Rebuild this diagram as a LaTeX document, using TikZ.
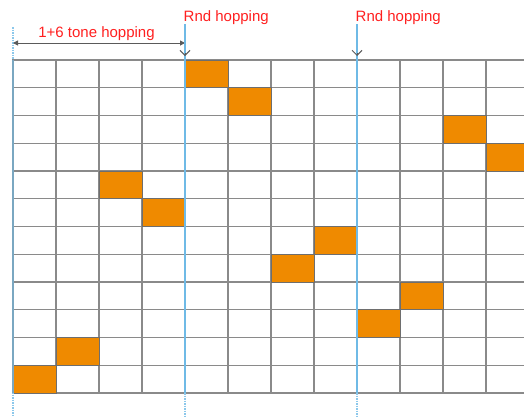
\documentclass[tikz,border=0pt]{standalone}
\usepackage{fontspec}
\setmainfont{Liberation Sans}
\usetikzlibrary{arrows.meta}
\definecolor{cellorange}{HTML}{EF8A00}
\definecolor{markblue}{HTML}{6FBAE6}
\definecolor{gridgray}{HTML}{8A8A8A}
\definecolor{arrowgray}{HTML}{5A5A5A}
\definecolor{labelred}{HTML}{FF2020}
\tikzset{
  gridline/.style={draw=gridgray, line width=1.1pt},
  hopcell/.style={fill=cellorange, draw=gridgray!80!black, line width=0.8pt},
  markline/.style={draw=markblue, line width=1.1pt},
  leftmark/.style={draw=markblue!60!gridgray, line width=1.1pt},
  tailline/.style={draw=markblue!80, line width=1.1pt, dash pattern=on 1.5pt off 1pt},
  spanarrow/.style={draw=arrowgray, line width=1pt, {Triangle[length=5pt,width=5pt]}-{Triangle[length=5pt,width=5pt]}},
  downtip/.style={draw=arrowgray, line width=1pt, -{Straight Barb[length=5pt,width=10pt]}},
  hoplabel/.style={text=labelred, font=\fontsize{15}{17}\selectfont, inner sep=0pt}
}
\begin{document}
\begin{tikzpicture}[x=1pt,y=-1pt]
\useasboundingbox (0,0) rectangle (524,416);
\clip (0,0) rectangle (524,416);
\fill[white] (0,0) rectangle (524,416);
% grid
\foreach \i in {0,...,12}
  \draw[gridline] (12,{60+\i*27.75}) -- (524,{60+\i*27.75});
\foreach \j in {1,2,3,5,6,7,9,10,11}
  \draw[gridline] ({13+\j*43},60) -- ({13+\j*43},393);
% hopping cells
\foreach \r/\c in {0/4,1/5,2/10,3/11,4/2,5/3,6/7,7/6,8/9,9/8,10/1,11/0}
  \draw[hopcell] ({13+\c*43},{60+\r*27.75}) rectangle ++(43,27.75);
% marker lines
\draw[tailline] (13,27) -- (13,416);
\draw[leftmark] (13,60) -- (13,393);
\foreach \x in {185,357} {
  \draw[markline] (\x,24) -- (\x,393);
  \draw[tailline] (\x,393) -- (\x,416);
}
% arrows
\coordinate (L) at (13,43);
\coordinate (R) at (185,43);
\coordinate (A1) at (185,45);
\coordinate (B1) at (185,56);
\coordinate (A2) at (357,45);
\coordinate (B2) at (357,56);
\draw[spanarrow] (L) -- (R);
\draw[downtip] (A1) -- (B1);
\draw[downtip] (A2) -- (B2);
\draw[markline] (185,24) -- (185,53);
\draw[markline] (357,24) -- (357,53);
% labels
\node[hoplabel] (t1) at (96.5,33.5) {1+6 tone hopping};
\node[hoplabel, anchor=west] (t2) at (183.5,17.5) {Rnd hopping};
\node[hoplabel, anchor=west] (t3) at (355.5,17.5) {Rnd hopping};
\end{tikzpicture}
\end{document}
